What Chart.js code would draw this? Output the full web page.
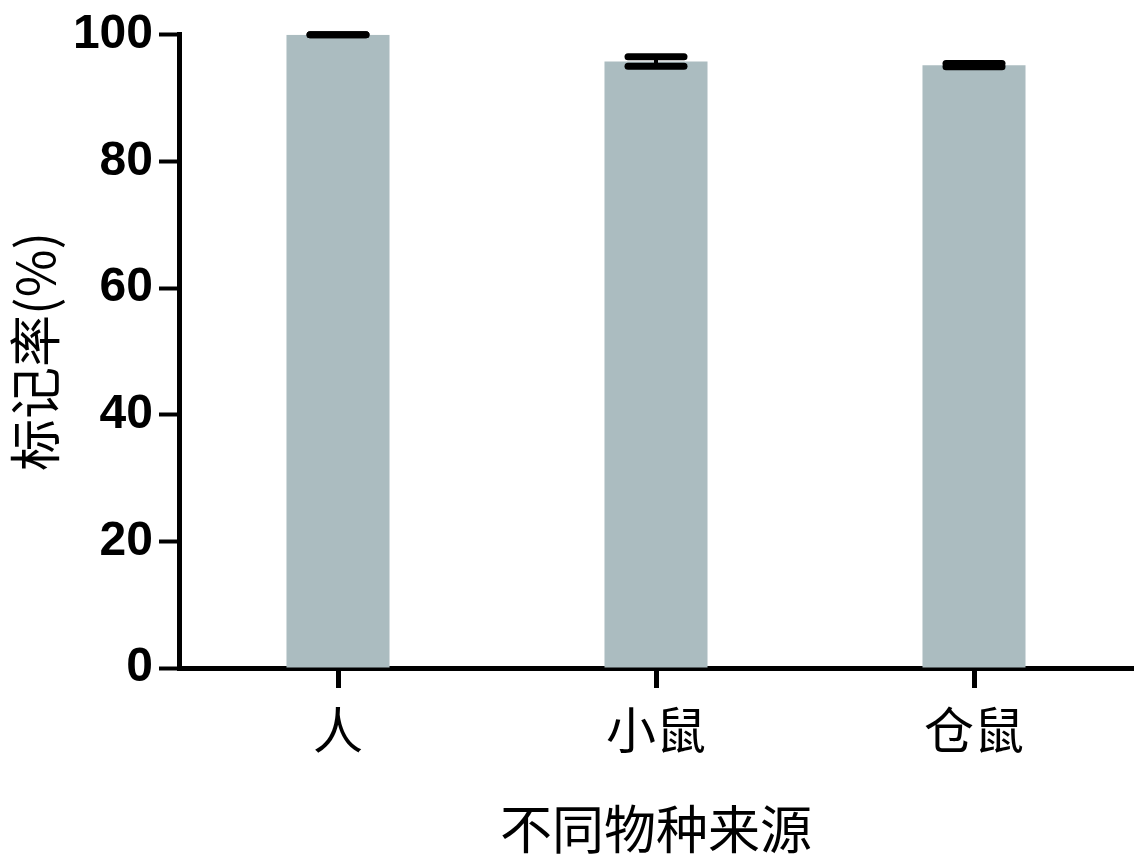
<!DOCTYPE html>
<html>
<head>
<meta charset="utf-8">
<script src="https://cdn.jsdelivr.net/npm/chart.js@4"></script>
<style>
  html, body { margin: 0; padding: 0; background: #fff; }
  #wrap { width: 1137px; height: 864px; }
</style>
</head>
<body>
<div id="wrap"><canvas id="chart" width="1137" height="864"></canvas></div>
<script>
const categories = ['人', '小鼠', '仓鼠'];
const means = [100, 95.8, 95.2];
const errors = [0, 0.75, 0.25];
const yTicks = [0, 20, 40, 60, 80, 100];

const cjk = '"Noto Sans CJK SC", "Noto Sans", sans-serif';
const latin = '"Liberation Sans", Arial, sans-serif';

// error bars drawn through the scales
const errorBars = {
    id: 'errorBars',
    afterDatasetsDraw(chart) {
        const ctx = chart.ctx;
        const x = chart.scales.x, y = chart.scales.y;
        ctx.save();
        ctx.strokeStyle = '#000';
        ctx.lineCap = 'round';
        means.forEach((m, i) => {
            const cx = x.getPixelForValue(i);
            const top = y.getPixelForValue(m + errors[i]);
            const bot = y.getPixelForValue(m - errors[i]);
            const half = 28;
            ctx.lineWidth = 4;
            ctx.beginPath();
            ctx.moveTo(cx, top);
            ctx.lineTo(cx, bot);
            ctx.stroke();
            ctx.lineWidth = 7;
            [top, bot].forEach(py => {
                ctx.beginPath();
                ctx.moveTo(cx - half, py);
                ctx.lineTo(cx + half, py);
                ctx.stroke();
            });
        });
        ctx.restore();
    }
};

new Chart(document.getElementById('chart').getContext('2d'), {
    type: 'bar',
    data: {
        labels: categories,
        datasets: [{
            data: means,
            backgroundColor: '#abbcc0',
            borderWidth: 0,
            categoryPercentage: 1,
            barPercentage: 0.324
        }]
    },
    options: {
        responsive: false,
        animation: false,
        layout: { padding: { top: 14, right: 4, left: 0, bottom: 0 } },
        plugins: { legend: { display: false }, tooltip: { enabled: false } },
        scales: {
            x: {
                grid: { offset: false, drawOnChartArea: false, drawTicks: true, tickLength: 20, tickWidth: 5, color: '#000' },
                border: { display: true, width: 5, color: '#000' },
                ticks: { color: '#000', font: { family: cjk, size: 50 }, padding: 12 },
                title: { display: true, text: '不同物种来源', color: '#000', font: { family: cjk, size: 52 }, padding: { top: 12 } },
                afterFit(s) { s.height = 196; }
            },
            y: {
                min: 0,
                max: 100,
                afterBuildTicks(s) { s.ticks = yTicks.map(v => ({ value: v })); },
                grid: { drawOnChartArea: false, drawTicks: true, tickLength: 20, tickWidth: 4, color: '#000' },
                border: { display: true, width: 5, color: '#000' },
                ticks: { color: '#000', font: { family: latin, size: 48, weight: 'bold' }, padding: 6 },
                title: { display: true, text: '标记率(%)', color: '#000', font: { family: cjk, size: 52 }, padding: { bottom: 2 } },
                afterFit(s) { s.width = 179; }
            }
        }
    },
    plugins: [errorBars]
});
</script>
</body>
</html>
